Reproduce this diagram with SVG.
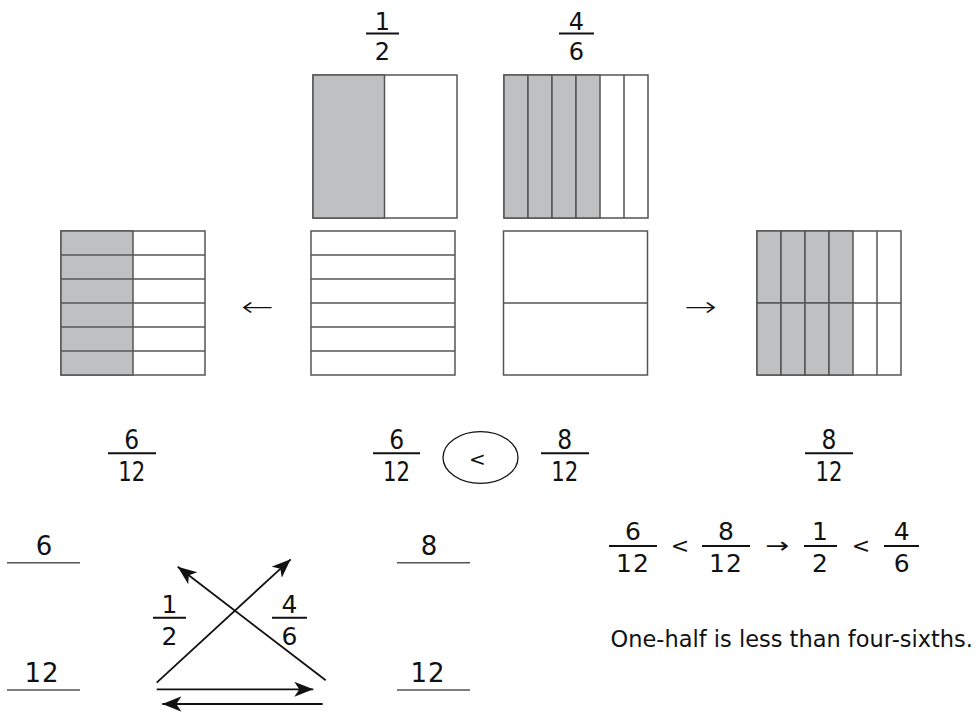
<svg xmlns="http://www.w3.org/2000/svg" width="979" height="713" viewBox="0 0 979 713">
<style>
.box{fill:#fff;stroke:#555;stroke-width:1.5}
.sh{fill:#bfc0c2;stroke:#555;stroke-width:1.5}
.dv{stroke:#555;stroke-width:1.5;fill:none}
.t{font-family:"DejaVu Sans","Verdana",sans-serif;fill:#111;text-anchor:middle}
.tc{font-family:"DejaVu Sans Condensed","DejaVu Sans",sans-serif;font-size:26px;fill:#111;text-anchor:middle}
.bar{stroke:#111;stroke-width:2}
.ul{stroke:#555;stroke-width:1.4}
.ar{stroke:#111;stroke-width:1.8;fill:none;marker-end:url(#ah)}
</style>
<defs>
<marker id="ah" markerWidth="22" markerHeight="16" refX="19" refY="7.5" orient="auto" markerUnits="userSpaceOnUse">
<path d="M0,0 L19,7.5 L0,15 L5,7.5 z" fill="#111"/>
</marker>
</defs>
<rect width="979" height="713" fill="#fff"/>

<g id="frac-top-half">
<text class="t" x="382.5" y="30" font-size="24">1</text>
<line class="bar" x1="366" y1="33.5" x2="399" y2="33.5"/>
<text class="t" x="382.5" y="60" font-size="24">2</text>
</g>
<g id="frac-top-foursixths">
<text class="t" x="576.5" y="30" font-size="24">4</text>
<line class="bar" x1="559" y1="33.5" x2="594" y2="33.5"/>
<text class="t" x="576.5" y="60" font-size="24">6</text>
</g>

<g id="box-half">
<rect class="box" x="313" y="75" width="144" height="143"/>
<rect class="sh" x="313" y="75" width="71.5" height="143"/>
</g>
<g id="box-foursixths">
<rect class="box" x="504" y="75" width="144" height="143"/>
<rect class="sh" x="504" y="75" width="24" height="143"/>
<rect class="sh" x="528" y="75" width="24" height="143"/>
<rect class="sh" x="552" y="75" width="24" height="143"/>
<rect class="sh" x="576" y="75" width="24" height="143"/>
<path class="dv" d="M624,75V218"/>
</g>

<g id="box-sixtwelfths">
<rect class="box" x="61" y="231" width="144" height="144"/>
<rect class="sh" x="61" y="231" width="72" height="144"/>
<path class="dv" d="M61,255H205M61,279H205M61,303H205M61,327H205M61,351H205"/>
</g>
<g id="box-sixths-rows">
<rect class="box" x="311" y="231" width="144" height="144"/>
<path class="dv" d="M311,255H455M311,279H455M311,303H455M311,327H455M311,351H455"/>
</g>
<g id="box-halves-rows">
<rect class="box" x="503.5" y="231" width="144" height="144"/>
<path class="dv" d="M503.5,303H647.5"/>
</g>
<g id="box-eighttwelfths">
<rect class="box" x="757" y="231" width="144" height="144"/>
<rect class="sh" x="757" y="231" width="24" height="72"/>
<rect class="sh" x="781" y="231" width="24" height="72"/>
<rect class="sh" x="805" y="231" width="24" height="72"/>
<rect class="sh" x="829" y="231" width="24" height="72"/>
<rect class="sh" x="757" y="303" width="24" height="72"/>
<rect class="sh" x="781" y="303" width="24" height="72"/>
<rect class="sh" x="805" y="303" width="24" height="72"/>
<rect class="sh" x="829" y="303" width="24" height="72"/>
<path class="dv" d="M877,231V375M853,303H901"/>
</g>

<g id="arrow-left-label"><text class="t" transform="translate(257.5,316) scale(1.45,1)" font-size="27" font-weight="300">←</text></g>
<g id="arrow-right-label"><text class="t" transform="translate(701,316) scale(1.45,1)" font-size="27" font-weight="300">→</text></g>

<g id="frac-left-6-12">
<text class="tc" x="131.7" y="449">6</text>
<line class="bar" x1="108" y1="453.3" x2="156" y2="453.3"/>
<text class="tc" x="131.7" y="481" textLength="27" lengthAdjust="spacingAndGlyphs">12</text>
</g>
<g id="frac-mid-6-12">
<text class="tc" x="396.6" y="449">6</text>
<line class="bar" x1="373" y1="453.3" x2="420" y2="453.3"/>
<text class="tc" x="396.6" y="481" textLength="27" lengthAdjust="spacingAndGlyphs">12</text>
</g>
<g id="compare-circle">
<ellipse cx="480.5" cy="457.5" rx="37.5" ry="25.8" fill="none" stroke="#111" stroke-width="1.3"/>
<text class="t" x="477.5" y="465.5" font-size="20">&lt;</text>
</g>
<g id="frac-mid-8-12">
<text class="tc" x="564.7" y="449">8</text>
<line class="bar" x1="541" y1="453.3" x2="589" y2="453.3"/>
<text class="tc" x="564.7" y="481" textLength="27" lengthAdjust="spacingAndGlyphs">12</text>
</g>
<g id="frac-right-8-12">
<text class="tc" x="829" y="449">8</text>
<line class="bar" x1="805" y1="453.3" x2="853" y2="453.3"/>
<text class="tc" x="829" y="481" textLength="27" lengthAdjust="spacingAndGlyphs">12</text>
</g>

<g id="blank-6">
<text class="t" x="44" y="555" font-size="26">6</text>
<line class="ul" x1="7" y1="562.7" x2="80" y2="562.7"/>
</g>
<g id="blank-12-left">
<text class="t" x="42" y="682" font-size="26" letter-spacing="1">12</text>
<line class="ul" x1="7" y1="690" x2="80" y2="690"/>
</g>
<g id="blank-8">
<text class="t" x="429" y="555" font-size="26">8</text>
<line class="ul" x1="397" y1="562.7" x2="470" y2="562.7"/>
</g>
<g id="blank-12-right">
<text class="t" x="428" y="682" font-size="26" letter-spacing="1">12</text>
<line class="ul" x1="397" y1="690" x2="470" y2="690"/>
</g>

<g id="frac-cross-half">
<text class="t" x="169.5" y="613" font-size="25">1</text>
<line class="bar" x1="153" y1="617.7" x2="186" y2="617.7"/>
<text class="t" x="169.5" y="645" font-size="25">2</text>
</g>
<g id="frac-cross-foursixths">
<text class="t" x="289.5" y="613" font-size="25">4</text>
<line class="bar" x1="272" y1="617.7" x2="307" y2="617.7"/>
<text class="t" x="289.5" y="645" font-size="25">6</text>
</g>

<g id="connectors">
<line class="ar" x1="156.7" y1="682.7" x2="290.7" y2="559.3"/>
<line class="ar" x1="325.7" y1="680.3" x2="177.7" y2="566.7"/>
<line class="ar" x1="156.7" y1="689.3" x2="313.3" y2="689.3"/>
<line class="ar" x1="322.7" y1="704" x2="162.3" y2="704"/>
</g>

<g id="equation">
<text class="t" x="633" y="540" font-size="25">6</text>
<line class="bar" x1="609" y1="546" x2="657" y2="546"/>
<text class="t" x="633" y="572" font-size="25" letter-spacing="1">12</text>
<text class="t" x="680" y="553" font-size="22">&lt;</text>
<text class="t" x="726" y="540" font-size="25">8</text>
<line class="bar" x1="702" y1="546" x2="750" y2="546"/>
<text class="t" x="726" y="572" font-size="25" letter-spacing="1">12</text>
<text class="t" transform="translate(777.5,553) scale(1.3,1)" font-size="22">→</text>
<text class="t" x="820" y="540" font-size="25">1</text>
<line class="bar" x1="804" y1="546" x2="837" y2="546"/>
<text class="t" x="820" y="572" font-size="25">2</text>
<text class="t" x="861" y="553" font-size="22">&lt;</text>
<text class="t" x="901.6" y="540" font-size="25">4</text>
<line class="bar" x1="884" y1="546" x2="919" y2="546"/>
<text class="t" x="901.6" y="572" font-size="25">6</text>
</g>
<g id="sentence">
<text x="973" y="647" font-family="DejaVu Sans, Verdana, sans-serif" font-size="22.5" fill="#111" text-anchor="end">One-half is less than four-sixths.</text>
</g>
</svg>
